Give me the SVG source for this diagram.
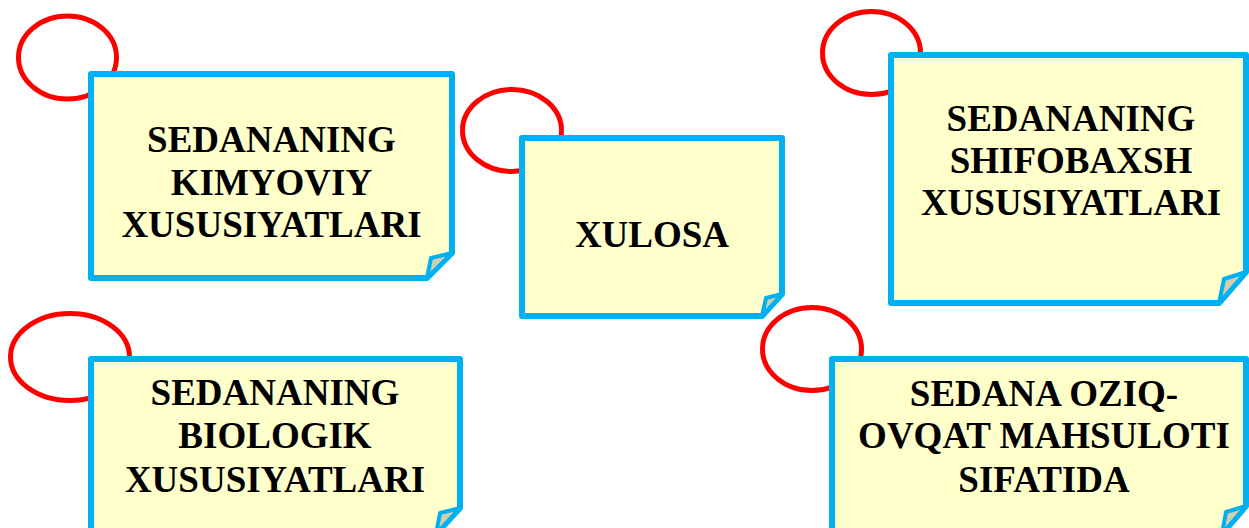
<svg xmlns="http://www.w3.org/2000/svg" width="1249" height="528" viewBox="0 0 1249 528">
<style>
.ring{fill:none;stroke:#FF0000;stroke-width:5}
.note{fill:#FFFFCC;stroke:#00B0F0;stroke-width:6;stroke-linejoin:round}
.flap{fill:#CFCFB0;stroke:#00B0F0;stroke-width:4;stroke-linejoin:round}
.t{font-family:"Liberation Serif","Times New Roman",serif;font-weight:bold;font-size:37px;fill:#000;text-anchor:middle}
</style>
<rect width="1249" height="528" fill="#FFFFFF"/>
<g id="connectors"></g>
<g id="node-kimyoviy">
<ellipse class="ring" cx="67.5" cy="57.5" rx="49" ry="41.5"/>
<path class="note" d="M91,74 H452 V253 L427,278 H91 Z"/>
<polygon class="flap" points="452,253 431,258 427,278"/>
<text class="t" x="271.5" y="152">SEDANANING</text>
<text class="t" x="271.5" y="195">KIMYOVIY</text>
<text class="t" x="271.5" y="237">XUSUSIYATLARI</text>
</g>
<g id="node-xulosa">
<ellipse class="ring" cx="512" cy="130.5" rx="49.5" ry="41"/>
<path class="note" d="M522,138 H782 V294 L762,316 H522 Z"/>
<polygon class="flap" points="782,294 766,298 762,316"/>
<text class="t" x="652" y="247">XULOSA</text>
</g>
<g id="node-shifobaxsh">
<ellipse class="ring" cx="871.5" cy="53" rx="49" ry="41.5"/>
<path class="note" d="M891,55 H1246 V272 L1219,303 H891 Z"/>
<polygon class="flap" points="1246,272 1224,279 1219,303"/>
<text class="t" x="1071" y="131">SEDANANING</text>
<text class="t" x="1071" y="173">SHIFOBAXSH</text>
<text class="t" x="1071" y="215">XUSUSIYATLARI</text>
</g>
<g id="node-biologik">
<ellipse class="ring" cx="70" cy="357" rx="59.5" ry="43.5"/>
<path class="note" d="M91,359 H460 V508 L436,534 H91 Z"/>
<polygon class="flap" points="460,508 440,513 436,534"/>
<text class="t" x="275" y="405">SEDANANING</text>
<text class="t" x="275" y="448">BIOLOGIK</text>
<text class="t" x="275" y="492">XUSUSIYATLARI</text>
</g>
<g id="node-oziq-ovqat">
<ellipse class="ring" cx="812" cy="349" rx="49.5" ry="41.5"/>
<path class="note" d="M832,359 H1246 V506 L1222,534 H832 Z"/>
<polygon class="flap" points="1246,506 1226,512 1222,534"/>
<text class="t" x="1044" y="406">SEDANA OZIQ-</text>
<text class="t" x="1044" y="448">OVQAT MAHSULOTI</text>
<text class="t" x="1044" y="492">SIFATIDA</text>
</g>
</svg>
